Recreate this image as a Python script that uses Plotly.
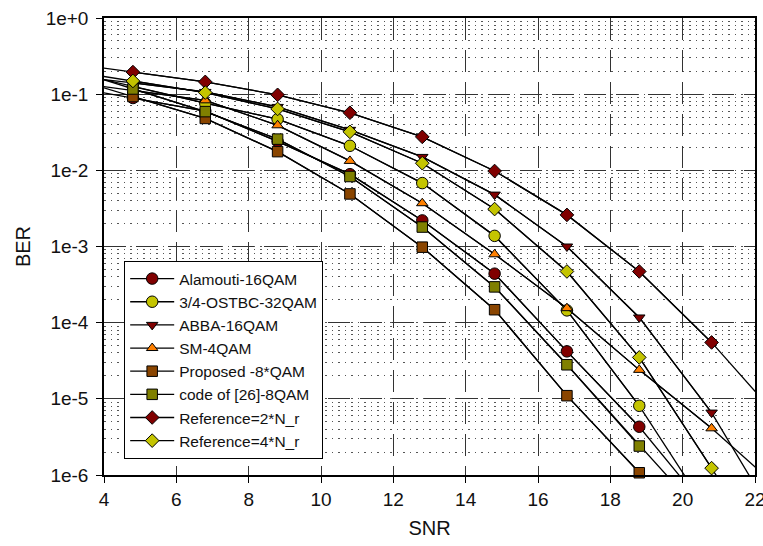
import plotly.graph_objects as go

# ---------------- data ----------------
snr = [2.8, 4.8, 6.8, 8.8, 10.8, 12.8, 14.8, 16.8, 18.8, 20.8, 22.8]

ber_alamouti = [0.132, 0.089, 0.060, 0.024, 0.0089, 0.0022, 4.4e-4, 4.2e-5, 4.3e-6, 3.0e-7, None]
ber_ostbc = [0.21, 0.126, 0.076, 0.047, 0.021, 0.0068, 0.00138, 1.45e-4, 8.1e-6, 2.8e-7, None]
ber_abba = [0.178, 0.141, 0.107, 0.068, 0.034, 0.015, 0.0048, 0.0010, 1.17e-4, 6.6e-6, 1.7e-7]
ber_sm = [0.15, 0.112, 0.083, 0.039, 0.0133, 0.0037, 7.9e-4, 1.55e-4, 2.4e-5, 4.1e-6, 5.9e-7]
ber_proposed = [0.18, 0.093, 0.048, 0.0176, 0.0049, 9.8e-4, 1.48e-4, 1.1e-5, 1.07e-6, 1.07e-7, None]
ber_code26 = [0.234, 0.117, 0.059, 0.0257, 0.0083, 0.0018, 2.95e-4, 2.8e-5, 2.4e-6, 2.2e-7, None]
ber_ref2 = [0.263, 0.195, 0.145, 0.098, 0.057, 0.0275, 0.0098, 0.0026, 4.7e-4, 5.5e-5, 4.7e-6]
ber_ref4 = [0.21, 0.149, 0.105, 0.064, 0.032, 0.0124, 0.0031, 4.7e-4, 3.5e-5, 1.23e-6, 4.0e-8]

series_names = ["Alamouti-16QAM", "3/4-OSTBC-32QAM", "ABBA-16QAM", "SM-4QAM",
                "Proposed -8*QAM", "code of [26]-8QAM", "Reference=2*N_r", "Reference=4*N_r"]
series_values = [ber_alamouti, ber_ostbc, ber_abba, ber_sm,
                 ber_proposed, ber_code26, ber_ref2, ber_ref4]

x_tickvals = [4, 6, 8, 10, 12, 14, 16, 18, 20, 22]
x_ticktext = ["4", "6", "8", "10", "12", "14", "16", "18", "20", "22"]
y_tickvals = [1e-6, 1e-5, 1e-4, 1e-3, 1e-2, 1e-1, 1]
y_ticktext = ["1e-6", "1e-5", "1e-4", "1e-3", "1e-2", "1e-1", "1e+0"]

# ---------------- styles ----------------
styles = [
    dict(symbol="circle", color="#800000", size=11.5),
    dict(symbol="circle", color="#C4C400", size=11.5),
    dict(symbol="triangle-down", color="#800000", size=10),
    dict(symbol="triangle-up", color="#FF8000", size=10),
    dict(symbol="square", color="#8A4500", size=10.5),
    dict(symbol="square", color="#808000", size=10.5),
    dict(symbol="diamond", color="#800000", size=10.5),
    dict(symbol="diamond", color="#C4C400", size=10.5),
]

XMIN, XMAX = 4, 22
YMIN, YMAX = 1e-6, 1.0

FONT = "Liberation Sans, Arial, Helvetica, sans-serif"

fig = go.Figure()

# full lines (extend beyond plot, clipped)
for name, vals in zip(series_names, series_values):
    fig.add_trace(go.Scatter(
        x=snr, y=vals, mode="lines", showlegend=False, hoverinfo="skip",
        line=dict(color="black", width=1.3), legendgroup=name))

# markers (only points inside the plotted window)
for name, vals, st in zip(series_names, series_values, styles):
    xs, ys = [], []
    for x, v in zip(snr, vals):
        if v is not None and XMIN <= x <= XMAX and YMIN * 0.95 <= v <= YMAX:
            xs.append(x)
            ys.append(v)
    fig.add_trace(go.Scatter(
        x=xs, y=ys, mode="lines+markers", name=name, legendgroup=name,
        cliponaxis=False,
        line=dict(color="black", width=1.3),
        marker=dict(symbol=st["symbol"], color=st["color"], size=st["size"],
                    line=dict(color="black", width=1))))

axis_font = dict(family=FONT, size=19, color="#111111")

fig.update_layout(
    width=763, height=546,
    margin=dict(l=104, r=8, t=18, b=71),
    paper_bgcolor="white", plot_bgcolor="white",
    font=dict(family=FONT, size=15, color="#111111"),
    showlegend=True,
    legend=dict(
        x=0.031, y=0.035, xanchor="left", yanchor="bottom",
        bgcolor="white", bordercolor="black", borderwidth=1,
        font=dict(family=FONT, size=15.5, color="#111111"),
        tracegroupgap=0, itemwidth=44,
    ),
)

fig.update_xaxes(
    range=[XMIN, XMAX], tickvals=x_tickvals, ticktext=x_ticktext,
    automargin=False,
    showline=True, linecolor="black", linewidth=1.5, mirror=True,
    ticks="outside", ticklen=6, tickcolor="black", tickwidth=1,
    ticklabeloverflow="allow",
    showgrid=True, gridcolor="#333333", gridwidth=1.2, griddash="22px,10px",
    zeroline=False, tickfont=axis_font,
    title=dict(text="SNR", font=dict(family=FONT, size=20, color="#111111"), standoff=12),
)

fig.update_yaxes(
    type="log", range=[-6, 0], tickvals=y_tickvals, ticktext=y_ticktext,
    automargin=False,
    showline=True, linecolor="black", linewidth=1.5, mirror=True,
    ticks="outside", ticklen=6, tickcolor="black", tickwidth=1,
    ticklabelstandoff=4,
    showgrid=True, gridcolor="#333333", gridwidth=1.2, griddash="22px,10px",
    minor=dict(dtick="D1", showgrid=True, gridcolor="#555555", gridwidth=1,
               griddash="1.5px,5px", ticks=""),
    zeroline=False, tickfont=axis_font,
    title=dict(text="BER", font=dict(family=FONT, size=20, color="#111111"), standoff=10),
)

fig.write_html("out.html")
